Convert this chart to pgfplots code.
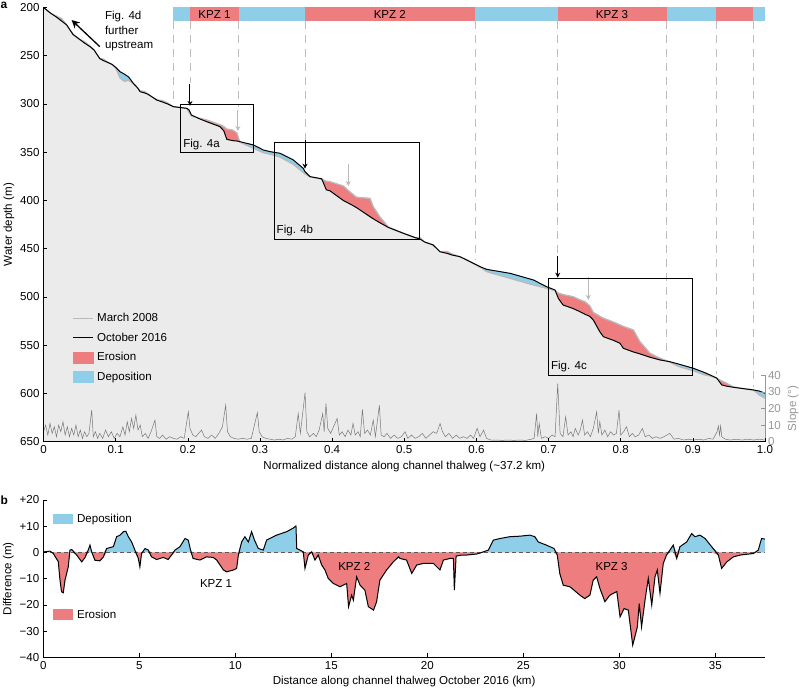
\documentclass[border=0pt]{standalone}
\usepackage{fontspec}
\setmainfont{Liberation Sans}
\usepackage{pgfplots}
\pgfplotsset{compat=1.18}
\usepackage{pgfplotstable}
\usepgfplotslibrary{fillbetween}
\usetikzlibrary{arrows.meta}

\definecolor{ero}{RGB}{238,125,128}
\definecolor{dep}{RGB}{142,206,232}
\definecolor{bg}{RGB}{235,235,235}
\definecolor{old}{RGB}{185,185,185}
\definecolor{slp}{RGB}{120,120,120}
\definecolor{dashc}{RGB}{190,190,190}
\definecolor{slab}{RGB}{150,150,150}

% thalweg depth profile (normalized distance, Oct 2016, Mar 2008)
\pgfplotstableread{
x d16 d08
0.000 200.0 200.0
0.010 206.0 206.0
0.018 210.0 209.0
0.025 214.0 211.5
0.032 218.0 218.0
0.041 228.0 228.0
0.050 233.0 233.0
0.057 237.0 235.5
0.0645 240.6 240.0
0.070 244.0 244.0
0.078 253.0 253.0
0.083 255.0 253.5
0.0876 256.5 256.0
0.095 259.0 259.0
0.100 262.0 262.5
0.106 266.5 273.0
0.112 269.0 276.5
0.118 272.0 275.5
0.1245 278.6 279.0
0.130 283.0 283.0
0.134 287.3 286.5
0.140 288.5 287.0
0.145 290.0 290.0
0.157 295.9 295.9
0.165 298.0 296.5
0.172 300.0 299.0
0.180 302.8 302.8
0.1985 304.5 304.5
0.2015 306.0 308.5
0.205 311.4 312.5
0.215 315.0 314.5
0.226 318.3 316.5
0.2446 323.5 321.5
0.250 328.0 323.5
0.254 336.6 326.0
0.262 338.0 327.0
0.268 338.4 330.0
0.272 339.0 339.5
0.291 342.5 346.0
0.3047 347.7 350.5
0.314 349.4 352.0
0.3278 351.1 355.0
0.3462 358.0 362.5
0.360 366.7 371.0
0.3625 370.2 372.5
0.3694 375.3 375.5
0.3855 377.5 378.0
0.392 389.0 380.0
0.397 390.0 380.5
0.4155 400.0 385.0
0.427 404.5 392.6
0.434 407.5 396.7
0.4525 416.8 397.8
0.457 419.0 406.4
0.466 423.0 416.8
0.478 428.0 427.5
0.4987 434.0 434.0
0.515 438.5 438.5
0.522 440.0 438.5
0.528 443.0 443.0
0.540 446.1 446.1
0.5495 453.1 453.1
0.560 455.0 453.0
0.566 456.5 455.5
0.5773 458.3 458.3
0.590 463.0 463.0
0.605 468.6 469.0
0.6143 471.4 473.8
0.6466 475.5 480.7
0.679 482.4 487.6
0.6974 489.4 491.0
0.709 492.8 493.5
0.7135 501.4 496.0
0.720 508.3 497.5
0.734 512.0 499.7
0.7436 515.3 503.0
0.7505 518.0 505.0
0.757 520.0 509.0
0.762 523.9 516.0
0.771 536.0 520.0
0.776 541.2 522.0
0.790 545.0 526.0
0.799 548.0 529.0
0.8036 553.2 530.5
0.8175 557.0 534.2
0.8267 559.0 546.4
0.831 560.1 550.0
0.8406 562.5 558.4
0.8545 565.3 563.5
0.868 567.1 567.5
0.880 569.5 572.0
0.9006 573.9 576.5
0.915 578.0 580.5
0.924 580.9 582.0
0.933 584.0 584.3
0.940 591.2 587.0
0.947 592.5 589.5
0.956 593.6 593.3
0.970 595.0 595.0
0.984 596.4 596.4
0.992 597.5 601.5
1.000 599.8 605.0
}\prof

% slope (degrees) along thalweg
\pgfplotstableread{
x s
0.000 6
0.003 10
0.006 4
0.009 11
0.012 5
0.015 9
0.018 3
0.021 10
0.024 6
0.027 12
0.030 4
0.033 9
0.036 3
0.039 8
0.042 4
0.045 10
0.048 3
0.051 7
0.054 2
0.057 6
0.060 3
0.063 5
0.0668 19
0.069 3
0.072 6
0.075 2
0.078 5
0.082 2
0.086 7
0.090 3
0.094 6
0.098 2
0.102 5
0.106 3
0.110 9
0.113 4
0.116 12
0.119 6
0.122 14
0.125 8
0.128 16
0.131 7
0.134 10
0.137 3
0.141 5
0.145 2
0.149 6
0.1545 13
0.157 3
0.161 2
0.165 4
0.170 1.5
0.175 3
0.180 2
0.185 1.5
0.190 3
0.195 2
0.2007 18
0.203 8
0.207 4
0.211 3
0.215 5
0.219 7
0.223 3
0.228 2
0.233 4
0.238 2
0.243 5
0.248 9
0.2525 22
0.255 6
0.259 3
0.264 2
0.270 1.5
0.276 2
0.282 1.5
0.288 2
0.2964 17.5
0.299 6
0.303 3
0.308 2
0.314 1.5
0.320 1
0.326 1.5
0.332 1
0.338 2
0.344 1.5
0.349 3
0.353 17
0.356 5
0.3625 29.5
0.365 6
0.369 3
0.374 5
0.378 3
0.382 7
0.387 17
0.389 6
0.3915 23
0.394 8
0.398 5
0.402 9
0.407 14
0.410 4
0.414 6
0.418 3
0.422 7
0.426 4
0.429 11
0.432 4
0.436 6
0.439 3
0.442 19.5
0.445 5
0.449 7
0.453 4
0.457 13
0.460 3
0.4655 22
0.468 4
0.472 3
0.476 5
0.481 2
0.486 4
0.491 2
0.496 3
0.501 6
0.505 2
0.510 4
0.515 2
0.520 3
0.525 5
0.530 2
0.535 4
0.540 6
0.545 5
0.5496 11
0.553 6
0.557 3
0.562 5
0.567 2
0.572 4
0.577 2
0.582 3
0.587 2
0.592 4
0.596 2
0.601 8
0.605 3
0.610 7
0.614 2
0.620 1
0.628 1
0.636 0.8
0.644 1
0.652 0.8
0.660 1
0.668 0.8
0.676 1.5
0.680 2
0.6835 17
0.685 3
0.687 11
0.690 2
0.695 3
0.700 2
0.705 4
0.709 3
0.7127 35
0.716 5
0.720 3
0.7237 15
0.727 4
0.731 6
0.734 3
0.737 8
0.741 4
0.744 7
0.747 13
0.750 4
0.754 6
0.758 3
0.762 8
0.7667 18
0.769 5
0.771 12
0.774 4
0.778 7
0.782 3
0.786 6
0.790 4
0.794 5
0.7977 19
0.800 4
0.804 6
0.808 9
0.812 3
0.816 5
0.820 3
0.825 4
0.830 8
0.834 3
0.839 4
0.844 2
0.849 3
0.854 2
0.860 3
0.868 5
0.874 1.5
0.880 2
0.887 1
0.894 1.5
0.901 1
0.908 1.5
0.915 1
0.922 2
0.928 1.5
0.9335 6
0.9353 9.5
0.937 4
0.9385 9.5
0.940 3
0.945 1.5
0.952 1
0.960 1.5
0.968 1
0.976 1.5
0.984 1
0.992 1.5
1.000 1
}\slope

% depth difference 2016-2008 (m) along thalweg (km)
\pgfplotstableread{
km d
0 0.2
0.35 0.5
0.52 -0.4
0.78 -3.5
0.87 -10.6
0.95 -15
1.04 -15.4
1.13 -10.6
1.3 -5.5
1.39 0.9
1.48 1.1
1.74 -1
2.0 -3.6
2.17 -2
2.34 0.9
2.43 2.8
2.52 0.2
2.69 -3
2.95 -3.2
3.13 -1.7
3.3 1.5
3.65 2.2
3.82 6
4.0 6.6
4.17 7.9
4.3 8.1
4.43 6
4.6 4
4.77 0.9
4.95 -2.3
5.03 -5.5
5.12 -0.4
5.3 1.5
5.47 0.9
5.64 -1.7
5.9 -2.7
6.25 -1.9
6.5 -2.7
6.68 -1
6.86 0.9
7.12 2.2
7.38 5.3
7.55 4.7
7.67 0.9
7.8 -2.3
8.16 -2.9
8.5 -1.7
8.85 -1.9
9.03 -2.9
9.38 -6.7
9.55 -7.4
9.9 -6.7
10.07 -6.1
10.16 -1
10.33 4
10.5 6
10.68 4
10.85 7.9
11.0 4.7
11.2 1.5
11.46 0.9
11.63 4.7
12.15 6.6
12.67 7.9
13.0 9.2
13.16 10.1
13.2 1.5
13.37 0.9
13.54 0.2
13.63 -6.1
13.8 -1
13.98 0.2
14.15 -2.9
14.32 -1
14.5 -4.8
14.67 -6.7
14.84 -9.9
15.1 -11.8
15.45 -13.1
15.8 -11.8
15.9 -20.7
16.06 -16.3
16.15 -18.2
16.32 -9.3
16.5 -12.5
16.75 -14.4
16.93 -20.7
17.2 -22
17.36 -18.8
17.53 -10.6
17.88 -6.7
18.23 -3.6
18.5 -1.7
18.58 -2.3
18.92 -2.9
19.19 -8
19.45 -4.8
19.79 -4.2
20.32 -4.2
20.66 -6.7
20.84 -2.9
21.18 -2.3
21.36 -2.3
21.41 -14.4
21.5 -1.4
21.79 -1
22.05 -1
22.58 -0.6
22.92 0.2
23.18 0.9
23.44 4.7
23.78 5.3
24.3 6
24.82 6.2
25.35 6.6
25.6 6
25.78 4
26.2 2.8
26.6 1.5
26.77 -1
26.9 -8
27.08 -12.5
27.43 -13.1
27.95 -16.3
28.2 -17.6
28.47 -16.3
28.64 -10.6
28.82 -9.3
28.99 -13.7
29.25 -18.8
29.51 -16.3
29.87 -14.9
30.04 -24.6
30.25 -21.4
30.47 -22
30.7 -35.4
30.94 -28.4
31.04 -19.5
31.16 -28.4
31.34 -18.2
31.51 -9.9
31.69 -20.1
31.86 -9.3
31.98 -6.7
32.12 -15.6
32.29 -4.2
32.46 -1
32.64 0.9
32.81 2.8
32.99 -2.3
33.16 2.2
33.51 4
33.77 7.2
33.94 6
34.2 6.6
34.47 5.3
34.81 2.2
35.16 -1
35.33 -6.1
35.6 -3.6
35.94 -1.7
36.3 -1
36.99 -0.4
37.24 0.9
37.41 5.3
37.58 5.1
}\diff

\pgfplotsset{
  every axis/.append style={
    scale only axis, anchor=south west, clip mode=individual,
    axis line style={line width=0.8bp},
    tick style={black, line width=0.6bp}, tick align=inside, major tick length=4bp,
    /pgf/number format/assume math mode=true,
    xlabel style={yshift=1bp}, ylabel style={yshift=-2bp},
  },
}

\begin{document}
\fontsize{11.6}{13.5}\selectfont
\begin{tikzpicture}[x=1bp,y=1bp]

% ---------------- panel a ----------------
\begin{axis}[at={(43.5bp,249.3bp)}, width=721.5bp, height=434.2bp,
  xmin=0, xmax=1, ymin=200, ymax=650, y dir=reverse,
  axis x line*=bottom, axis y line*=left, axis on top,
  xtick={0,0.1,0.2,0.3,0.4,0.5,0.6,0.7,0.8,0.9,1},
  xticklabels={0,0.1,0.2,0.3,0.4,0.5,0.6,0.7,0.8,0.9,1.0},
  ytick={200,250,300,350,400,450,500,550,600,650},
  xlabel={Normalized distance along channel thalweg (\textasciitilde37.2 km)},
  ylabel={Water depth (m)},
  legend style={at={(0.036,0.303)}, anchor=north west, draw=none, fill=none,
    row sep=7.5bp, nodes={inner ysep=1bp, inner xsep=3.5bp}},
  legend cell align=left,
]
\path[name path=bot] (axis cs:0,650) -- (axis cs:1,650);
\addplot[draw=none, name path=p08, forget plot] table[x=x, y=d08]{\prof};
\addplot[draw=none, name path=p16, forget plot] table[x=x, y=d16]{\prof};
\addplot[draw=none, name path=pmx, forget plot] table[x=x, y expr={max(\thisrow{d08},\thisrow{d16})}]{\prof};
\addplot[fill=ero, draw=none, forget plot] fill between[of=p08 and bot];
\addplot[fill=dep, draw=none, forget plot] fill between[of=p16 and bot];
\addplot[fill=bg, draw=none, forget plot] fill between[of=pmx and bot];

\addplot[old, line width=1.3bp, legend image code/.code={\draw[old, line width=0.8bp] (0bp,0bp) -- (20bp,0bp);}] table[x=x, y=d08]{\prof};
\addlegendentry{March 2008}
\addplot[black, line width=1bp, legend image code/.code={\draw[black, line width=1bp] (0bp,0bp) -- (20bp,0bp);}] table[x=x, y=d16]{\prof};
\addlegendentry{October 2016}
\addlegendimage{legend image code/.code={\fill[ero] (0bp,-5.5bp) rectangle (20bp,5.5bp);}}
\addlegendentry{Erosion}
\addlegendimage{legend image code/.code={\fill[dep] (0bp,-5.5bp) rectangle (20bp,5.5bp);}}
\addlegendentry{Deposition}

% zone band on top
\addplot[fill=dep, draw=none, forget plot] coordinates {(0.18,200) (0.203,200) (0.203,213.5) (0.18,213.5)};
\addplot[fill=ero, draw=none, forget plot] coordinates {(0.203,200) (0.2705,200) (0.2705,213.5) (0.203,213.5)};
\addplot[fill=dep, draw=none, forget plot] coordinates {(0.2705,200) (0.3625,200) (0.3625,213.5) (0.2705,213.5)};
\addplot[fill=ero, draw=none, forget plot] coordinates {(0.3625,200) (0.598,200) (0.598,213.5) (0.3625,213.5)};
\addplot[fill=dep, draw=none, forget plot] coordinates {(0.598,200) (0.7127,200) (0.7127,213.5) (0.598,213.5)};
\addplot[fill=ero, draw=none, forget plot] coordinates {(0.7127,200) (0.864,200) (0.864,213.5) (0.7127,213.5)};
\addplot[fill=dep, draw=none, forget plot] coordinates {(0.864,200) (0.9325,200) (0.9325,213.5) (0.864,213.5)};
\addplot[fill=ero, draw=none, forget plot] coordinates {(0.9325,200) (0.9838,200) (0.9838,213.5) (0.9325,213.5)};
\addplot[fill=dep, draw=none, forget plot] coordinates {(0.9838,200) (1,200) (1,213.5) (0.9838,213.5)};
\node at (axis cs:0.237,206.8) {KPZ 1};
\node at (axis cs:0.480,206.8) {KPZ 2};
\node at (axis cs:0.788,206.8) {KPZ 3};

% zone boundaries
\begin{scope}[dashc, line width=0.9bp, dash pattern=on 8bp off 6bp]
\draw (axis cs:0.18,213.5) -- (axis cs:0.18,297);
\draw (axis cs:0.203,213.5) -- (axis cs:0.203,278);
\draw (axis cs:0.2695,213.5) -- (axis cs:0.2695,303);
\draw (axis cs:0.3625,213.5) -- (axis cs:0.3625,337);
\draw (axis cs:0.598,213.5) -- (axis cs:0.598,462);
\draw (axis cs:0.7127,213.5) -- (axis cs:0.7127,458);
\draw (axis cs:0.864,213.5) -- (axis cs:0.864,557);
\draw (axis cs:0.9325,213.5) -- (axis cs:0.9325,580);
\draw (axis cs:0.9838,213.5) -- (axis cs:0.9838,593);
\end{scope}

% arrows
\draw[-{Stealth[length=5bp,width=5bp]}, line width=1bp] (axis cs:0.203,279) -- (axis cs:0.203,302);
\draw[-{Stealth[length=5bp,width=5bp]}, line width=1bp] (axis cs:0.3625,337) -- (axis cs:0.3625,367);
\draw[-{Stealth[length=5bp,width=5bp]}, line width=1bp] (axis cs:0.7127,458) -- (axis cs:0.7127,480);
\draw[-{Stealth[length=5bp,width=5bp]}, line width=1bp, old] (axis cs:0.2695,306) -- (axis cs:0.2695,328);
\draw[-{Stealth[length=5bp,width=5bp]}, line width=1bp, old] (axis cs:0.4225,362) -- (axis cs:0.4225,385);
\draw[-{Stealth[length=5bp,width=5bp]}, line width=1bp, old] (axis cs:0.755,479) -- (axis cs:0.755,503);
\draw[-{Stealth[length=8bp,width=8bp]}, line width=1.3bp] (axis cs:0.078,240.6) -- (axis cs:0.039,213);
\node[anchor=north west, align=left, inner sep=0pt, font=\fontsize{11.6}{14.5}\selectfont] at (axis cs:0.085,203.8) {Fig. 4d\\further\\upstream};

% figure boxes
\draw[line width=0.9bp] (axis cs:0.19,300) rectangle (axis cs:0.291,350);
\draw[line width=0.9bp] (axis cs:0.3195,340) rectangle (axis cs:0.5205,440);
\draw[line width=0.9bp] (axis cs:0.6997,480.7) rectangle (axis cs:0.8992,580.9);
\node[anchor=south west, inner sep=2.5bp] at (axis cs:0.19,350) {Fig. 4a};
\node[anchor=south west, inner sep=2.5bp] at (axis cs:0.3195,440) {Fig. 4b};
\node[anchor=south west, inner sep=2.5bp] at (axis cs:0.6997,580.9) {Fig. 4c};
\end{axis}

% slope on the right-hand axis
\begin{axis}[at={(43.5bp,249.3bp)}, width=721.5bp, height=434.2bp,
  xmin=0, xmax=1, ymin=0, ymax=261.6,
  axis x line=none, axis y line*=right, y axis line style={draw=none},
  ytick={0,10,20,30,40}, ytick style={slab}, yticklabel style={text=slab, xshift=-1bp},
]
\addplot[slp, line width=0.5bp] table[x=x, y=s]{\slope};
\draw[slab, line width=0.8bp] (axis cs:1,0) -- (axis cs:1,40);
\node[xshift=28bp, rotate=90, text=slab] at (axis cs:1,20) {Slope (°)};
\end{axis}

% ---------------- panel b ----------------
\begin{axis}[at={(43.3bp,33.7bp)}, width=721.7bp, height=157.3bp,
  xmin=0, xmax=37.59, ymin=-40, ymax=20,
  axis x line*=bottom, axis y line*=left, axis on top,
  xtick={0,5,10,15,20,25,30,35},
  ytick={-40,-30,-20,-10,0,10,20},
  yticklabels={−40,−30,−20,−10,0,+10,+20},
  xlabel={Distance along channel thalweg October 2016 (km)},
  ylabel={Difference (m)},
]
\addplot[fill=dep, draw=none] table[x=km, y expr={max(\thisrow{d},0)}]{\diff} \closedcycle;
\addplot[fill=ero, draw=none] table[x=km, y expr={min(\thisrow{d},0)}]{\diff} \closedcycle;
\draw[black!65, line width=0.8bp, dash pattern=on 4bp off 3bp] (axis cs:0,0) -- (axis cs:37.59,0);
\addplot[black, line width=1bp] table[x=km, y=d]{\diff};
\node at (axis cs:9.0,-11.8) {KPZ 1};
\node at (axis cs:16.2,-5.5) {KPZ 2};
\node at (axis cs:29.6,-5.5) {KPZ 3};
\fill[dep] (axis cs:0.5,14.6) rectangle (axis cs:1.55,10.8);
\node[anchor=west, inner sep=0pt] at (axis cs:1.75,12.7) {Deposition};
\fill[ero] (axis cs:0.5,-21.7) rectangle (axis cs:1.55,-25.9);
\node[anchor=west, inner sep=0pt] at (axis cs:1.75,-23.8) {Erosion};
\end{axis}

\node[anchor=north west, inner sep=0pt, font=\bfseries\fontsize{12}{14}\selectfont] at (0.5,689.5) {a};
\node[anchor=base west, inner sep=0pt, font=\bfseries\fontsize{12}{14}\selectfont] at (0.5,186) {b};

\pgfresetboundingbox
\path[use as bounding box] (0,0) rectangle (799,691);
\end{tikzpicture}
\end{document}
